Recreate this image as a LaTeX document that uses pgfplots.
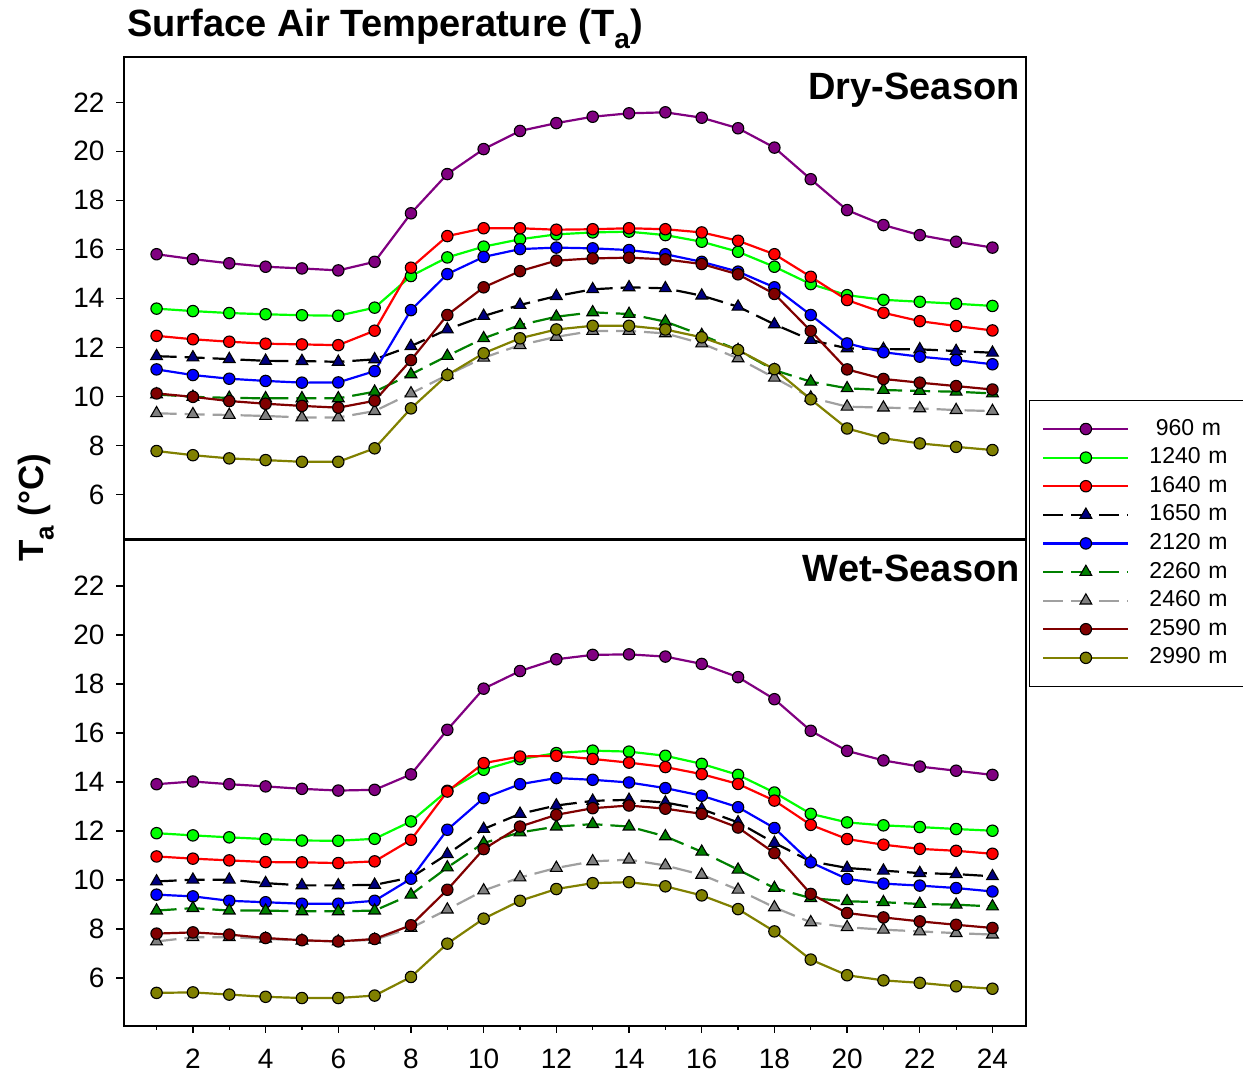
\documentclass[border=0pt]{standalone}
\usepackage{pgfplots}
\pgfplotsset{compat=1.18}
\usepackage{pgfplotstable}
\usepackage{fontspec}
\setmainfont{Liberation Sans}

\definecolor{c960}{RGB}{128,0,128}
\definecolor{c1240}{RGB}{0,255,0}
\definecolor{c1640}{RGB}{255,0,0}
\definecolor{c1650m}{RGB}{0,0,128}
\definecolor{c2120}{RGB}{0,0,255}
\definecolor{c2260}{RGB}{0,128,0}
\definecolor{c2460}{RGB}{128,128,128}
\definecolor{c2460l}{RGB}{160,160,160}
\definecolor{c2590}{RGB}{128,0,0}
\definecolor{c2990}{RGB}{128,128,0}

% Dry season
\pgfplotstableread{
h  a     b     c     d     e     f     g     i     j
1  15.80 13.58 12.47 11.64 11.10 10.08 9.31  10.12 7.77
2  15.60 13.48 12.33 11.59 10.87 9.98  9.27  9.98  7.60
3  15.43 13.40 12.23 11.52 10.72 9.94  9.24  9.81  7.47
4  15.29 13.35 12.15 11.45 10.63 9.92  9.20  9.70  7.40
5  15.22 13.31 12.12 11.44 10.56 9.92  9.14  9.61  7.33
6  15.14 13.29 12.09 11.41 10.57 9.92  9.14  9.54  7.33
7  15.49 13.62 12.68 11.51 11.03 10.19 9.40  9.82  7.88
8  17.47 14.91 15.25 12.05 13.52 10.90 10.12 11.48 9.51
9  19.07 15.67 16.54 12.73 14.99 11.65 10.87 13.32 10.87
10 20.09 16.11 16.86 13.28 15.69 12.37 11.58 14.45 11.76
11 20.83 16.41 16.86 13.73 16.01 12.91 12.09 15.11 12.37
12 21.15 16.61 16.80 14.09 16.07 13.25 12.43 15.54 12.73
13 21.41 16.69 16.82 14.37 16.04 13.43 12.67 15.63 12.88
14 21.55 16.72 16.86 14.45 15.97 13.36 12.67 15.66 12.88
15 21.59 16.58 16.82 14.41 15.80 13.05 12.57 15.59 12.73
16 21.37 16.31 16.69 14.11 15.49 12.50 12.16 15.40 12.41
17 20.94 15.90 16.35 13.66 15.09 11.89 11.55 14.98 11.89
18 20.15 15.29 15.80 12.94 14.45 11.07 10.76 14.18 11.11
19 18.86 14.58 14.88 12.30 13.32 10.60 9.95  12.67 9.88
20 17.60 14.13 13.93 11.96 12.16 10.33 9.58  11.10 8.69
21 16.99 13.94 13.41 11.93 11.80 10.26 9.54  10.71 8.29
22 16.58 13.86 13.07 11.92 11.62 10.22 9.51  10.56 8.08
23 16.31 13.78 12.87 11.85 11.48 10.19 9.44  10.42 7.94
24 16.07 13.69 12.69 11.78 11.31 10.12 9.40  10.28 7.81
}\dry

% Wet season
\pgfplotstableread{
h  a     b     c     d     e     f     g     i     j
1  13.91 11.91 10.96 9.94  9.40  8.75  7.49  7.81  5.39
2  14.02 11.82 10.87 10.01 9.33  8.85  7.66  7.86  5.41
3  13.91 11.74 10.80 10.01 9.15  8.75  7.66  7.77  5.32
4  13.82 11.67 10.73 9.87  9.09  8.75  7.60  7.63  5.23
5  13.72 11.61 10.72 9.78  9.03  8.72  7.52  7.54  5.18
6  13.65 11.60 10.69 9.78  9.03  8.72  7.49  7.49  5.18
7  13.68 11.68 10.76 9.80  9.15  8.75  7.56  7.59  5.28
8  14.31 12.39 11.64 10.10 10.05 9.40  8.04  8.15  6.04
9  16.13 13.64 13.61 11.05 12.05 10.51 8.79  9.60  7.40
10 17.81 14.50 14.77 12.08 13.34 11.51 9.57  11.26 8.42
11 18.53 14.93 15.04 12.70 13.91 11.94 10.10 12.18 9.15
12 19.01 15.18 15.07 13.04 14.16 12.18 10.49 12.66 9.63
13 19.19 15.28 14.94 13.23 14.09 12.28 10.76 12.93 9.87
14 19.21 15.24 14.79 13.27 13.98 12.18 10.83 13.04 9.91
15 19.12 15.07 14.61 13.16 13.75 11.78 10.59 12.91 9.74
16 18.82 14.74 14.32 12.89 13.44 11.15 10.21 12.70 9.37
17 18.28 14.29 13.92 12.35 12.97 10.42 9.60  12.14 8.81
18 17.38 13.57 13.24 11.51 12.12 9.67  8.88  11.10 7.90
19 16.09 12.70 12.25 10.76 10.72 9.26  8.27  9.43  6.75
20 15.27 12.35 11.67 10.49 10.04 9.13  8.07  8.65  6.11
21 14.88 12.23 11.44 10.38 9.85  9.09  7.97  8.47  5.90
22 14.63 12.16 11.27 10.28 9.77  9.02  7.90  8.31  5.80
23 14.46 12.08 11.19 10.24 9.67  8.99  7.83  8.17  5.66
24 14.29 12.01 11.07 10.15 9.53  8.92  7.77  8.04  5.56
}\wet

\pgfplotsset{
  panel/.style={
    scale only axis, width=451.2pt,
    xmin=0.09, xmax=24.92,
    axis line style={line width=1pt},
    tick align=outside, tick pos=left,
    ytick={6,8,...,22},
    major tick length=3.5pt, minor tick length=2pt,
    tick style={black, line width=0.6pt},
    tick label style={font=\fontsize{14}{16}\selectfont},
    yticklabel style={xshift=-2.5pt},
    xticklabel style={yshift=-4.5pt},
    /pgf/number format/assume math mode=true,
    legend image code/.code={\draw[mark repeat=2,mark phase=2] plot coordinates {(0pt,0pt) (21.25pt,0pt) (42.5pt,0pt)};},
  },
  sc/.style={color=#1, line width=1.1pt, mark=*, mark options={solid, fill=#1, draw=black, line width=0.55pt, mark size=2.85pt}},
  st/.style 2 args={color=#1, line width=1.1pt, dash pattern=on 10pt off 4pt, mark=triangle*, mark options={solid, fill=#2, draw=black, line width=0.55pt, mark size=3.4pt}},
}

\begin{document}
\begin{tikzpicture}[x=1pt,y=1pt]
\useasboundingbox (0,0) rectangle (621.5,539);

\begin{axis}[panel, at={(61.75pt,269.25pt)}, anchor=south west,
  height=241.4pt, ymin=4.16, ymax=23.86,
  xtick=\empty,
  legend style={at={(1.0034,0.2889)}, anchor=north west, draw=black, line width=0.6pt,
    inner xsep=6.35pt, inner ysep=8.2pt, row sep=2.3pt, column sep=8pt,
    font=\fontsize{11.5}{13}\selectfont,
    nodes={text width=43pt, align=center, text height=9pt, text depth=3pt, inner xsep=0pt, inner ysep=0pt}},
  legend cell align=center]
\addplot[sc=c960] table[x=h,y=a]{\dry}; \addlegendentry{960 m}
\addplot[sc=c1240] table[x=h,y=b]{\dry}; \addlegendentry{1240 m}
\addplot[sc=c1640] table[x=h,y=c]{\dry}; \addlegendentry{1640 m}
\addplot[st={black}{c1650m}] table[x=h,y=d]{\dry}; \addlegendentry{1650 m}
\addplot[sc=c2120] table[x=h,y=e]{\dry}; \addlegendentry{2120 m}
\addplot[st={c2260}{c2260}] table[x=h,y=f]{\dry}; \addlegendentry{2260 m}
\addplot[st={c2460l}{c2460}] table[x=h,y=g]{\dry}; \addlegendentry{2460 m}
\addplot[sc=c2590] table[x=h,y=i]{\dry}; \addlegendentry{2590 m}
\addplot[sc=c2990] table[x=h,y=j]{\dry}; \addlegendentry{2990 m}
\end{axis}

\begin{axis}[panel, at={(61.75pt,26.15pt)}, anchor=south west,
  height=243.1pt, ymin=4.05, ymax=23.9,
  xtick={2,4,...,24}, minor xtick={1,3,...,23}]
\addplot[sc=c960] table[x=h,y=a]{\wet};
\addplot[sc=c1240] table[x=h,y=b]{\wet};
\addplot[sc=c1640] table[x=h,y=c]{\wet};
\addplot[st={black}{c1650m}] table[x=h,y=d]{\wet};
\addplot[sc=c2120] table[x=h,y=e]{\wet};
\addplot[st={c2260}{c2260}] table[x=h,y=f]{\wet};
\addplot[st={c2460l}{c2460}] table[x=h,y=g]{\wet};
\addplot[sc=c2590] table[x=h,y=i]{\wet};
\addplot[sc=c2990] table[x=h,y=j]{\wet};
\end{axis}

\node[anchor=base west, inner sep=0pt, font=\fontsize{19}{22}\selectfont\bfseries] at (63.5,520.5)
  {Surface Air Temperature (T\raisebox{-0.3em}{\fontsize{14}{14}\selectfont a})};
\node[anchor=base east, inner sep=0pt, font=\fontsize{19}{22}\selectfont\bfseries] at (510,489) {Dry-Season};
\node[anchor=base east, inner sep=0pt, font=\fontsize{19}{22}\selectfont\bfseries] at (510,248) {Wet-Season};
\node[rotate=90, anchor=base, inner sep=0pt, font=\fontsize{17.5}{20}\selectfont\bfseries] at (21.5,285.25)
  {T\raisebox{-0.3em}{\fontsize{13}{13}\selectfont a} (°C)};
\end{tikzpicture}
\end{document}
